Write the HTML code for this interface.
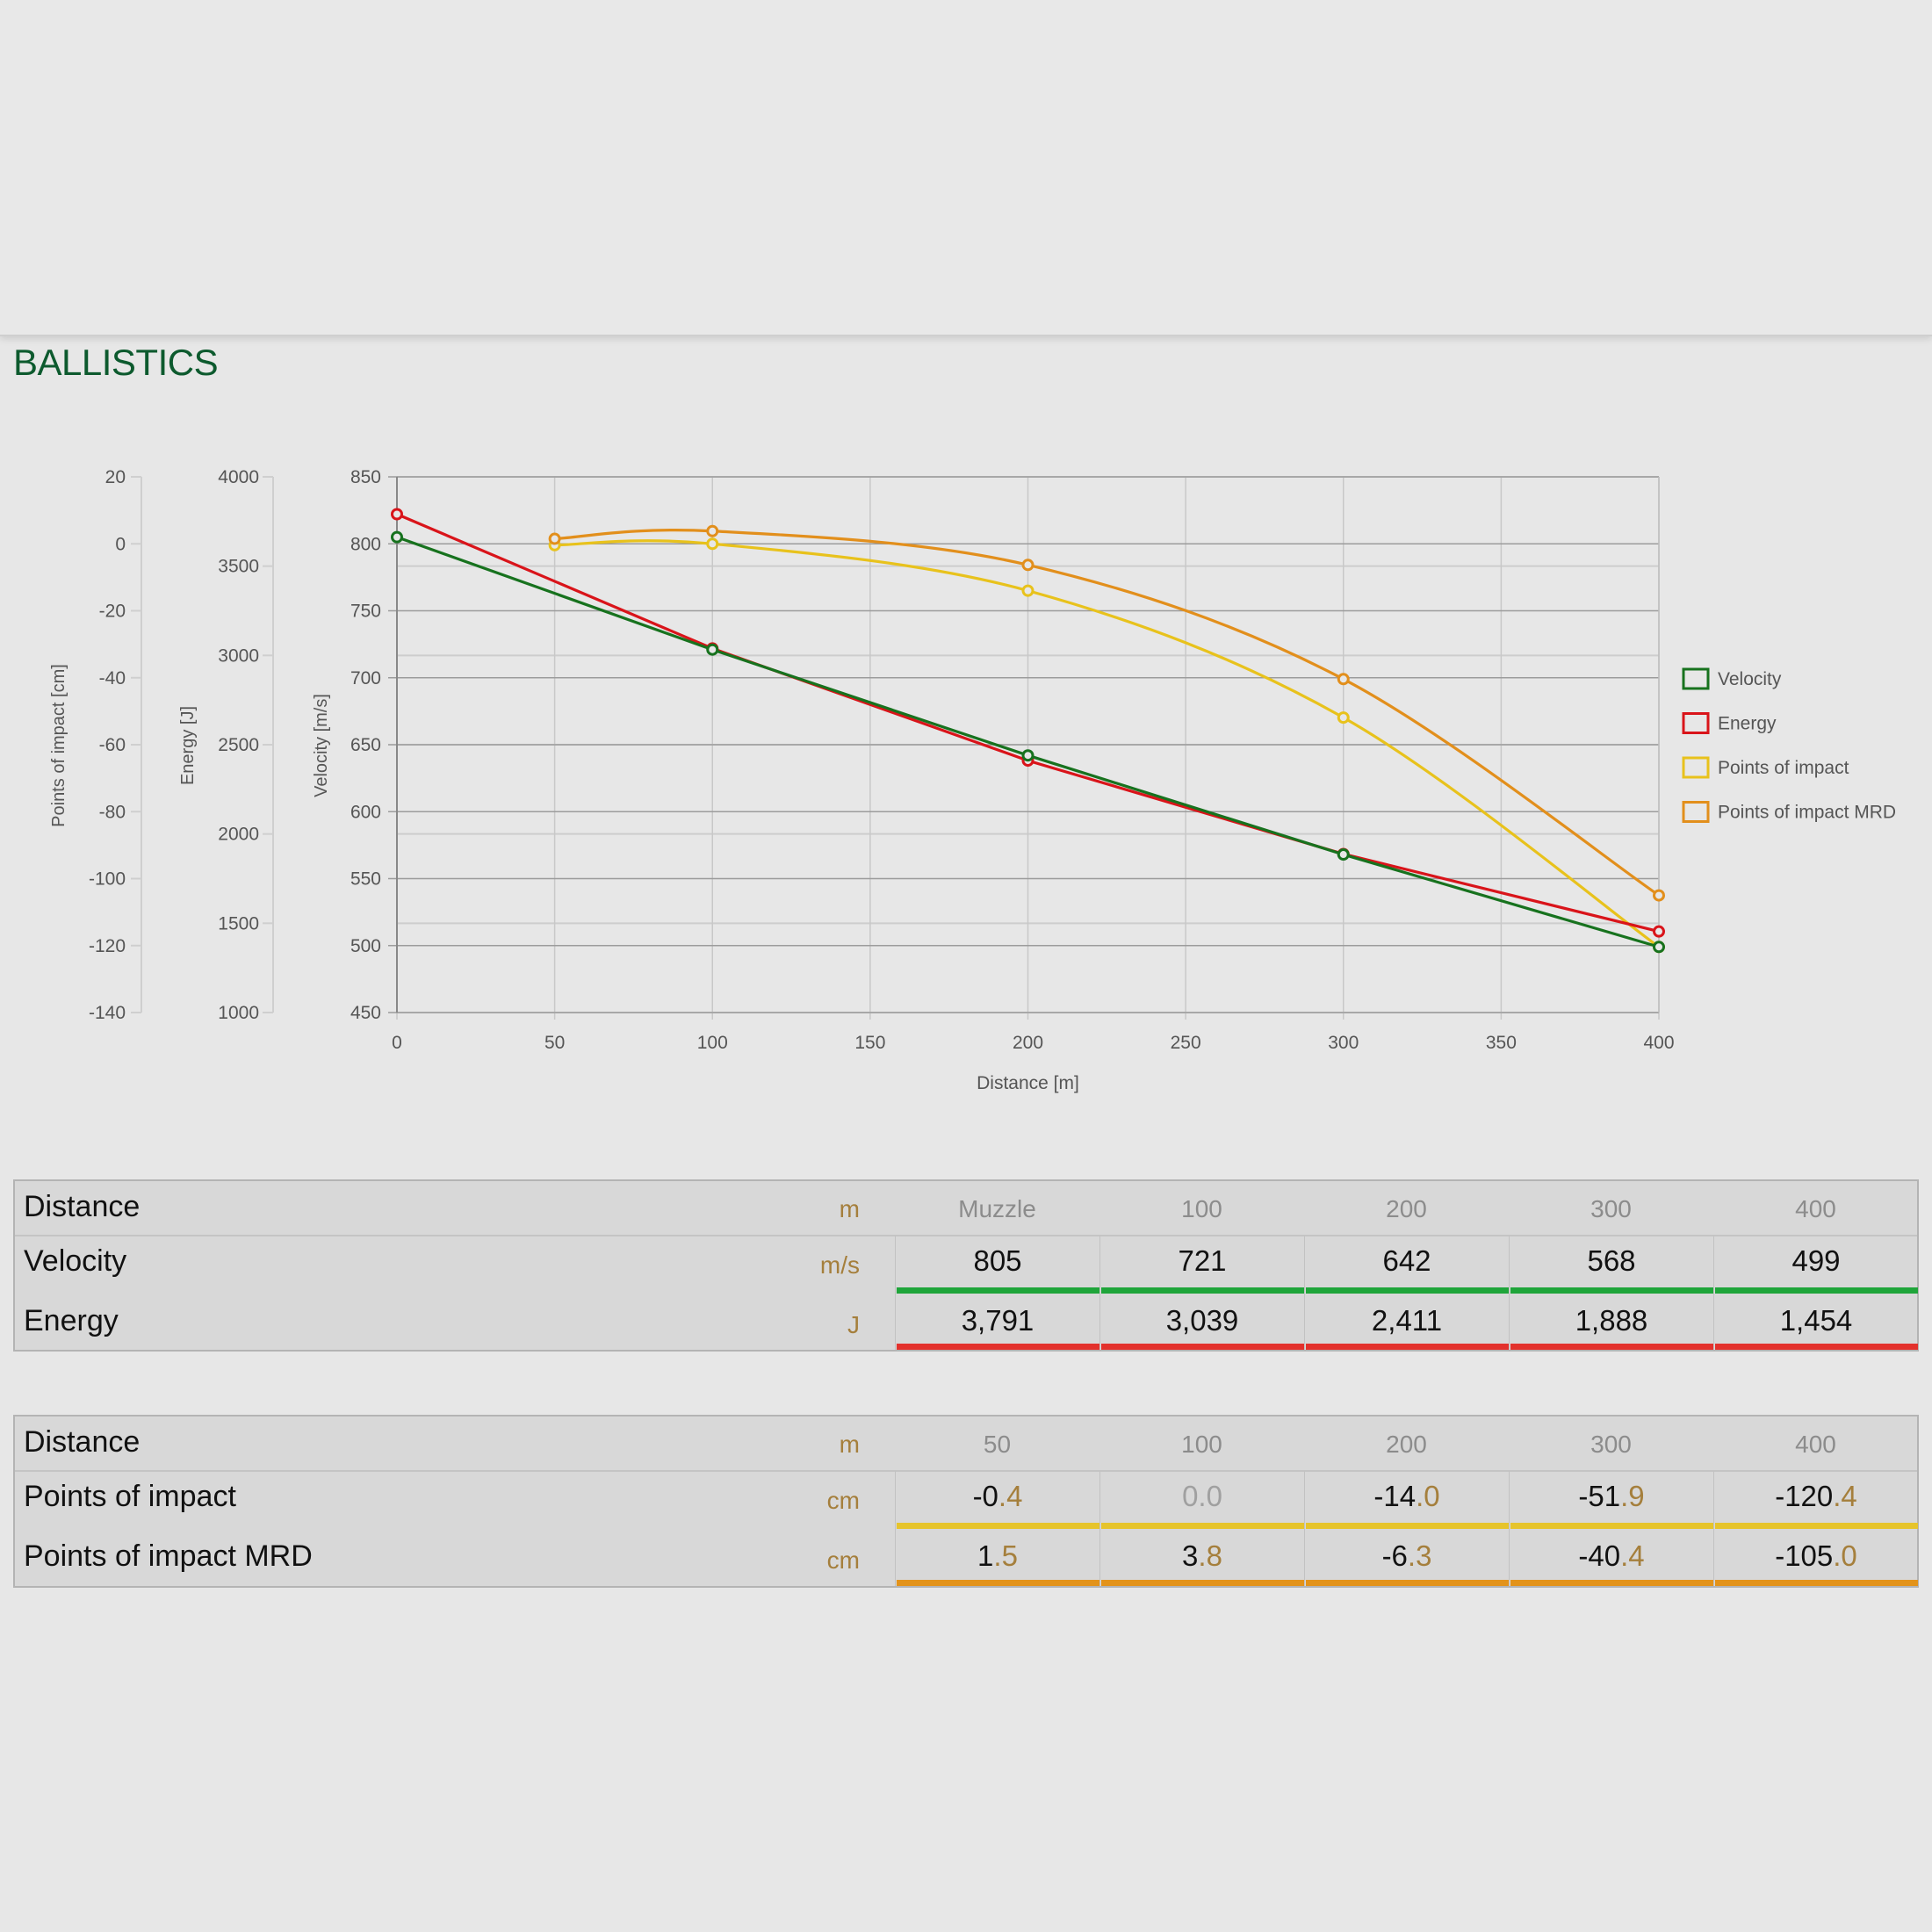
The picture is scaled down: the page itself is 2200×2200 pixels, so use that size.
<!DOCTYPE html>
<html><head><meta charset="utf-8">
<style>
html,body{margin:0;padding:0;background:#e7e7e7;}
body{width:2200px;height:2200px;position:relative;overflow:hidden;font-family:"Liberation Sans",sans-serif;}
#topband{position:absolute;left:0;top:0;width:2200px;height:381px;background:#e8e8e8;border-bottom:2px solid #cfcfcf;box-shadow:0 3px 8px rgba(0,0,0,0.12);}
#title{position:absolute;left:15px;top:389px;font-size:42px;color:#0d5a2e;letter-spacing:-0.5px;}
svg{position:absolute;left:0;top:0;}
.tbl{position:absolute;left:15px;width:2170px;background:#d8d8d8;border:2px solid #b4b4b4;box-sizing:border-box;}
.row{position:absolute;left:0;width:2166px;}
.hdr{border-bottom:2px solid #c4c4c4;}
.lbl{position:absolute;left:10px;font-size:34px;color:#111;}
.unit{position:absolute;right:1204px;font-size:28px;color:#a57f3c;}
.cell{position:absolute;width:233px;text-align:center;box-sizing:border-box;}
.hc{font-size:28px;color:#8c8c8c;}
.vc{font-size:33px;color:#111;border-left:1px solid #c2c2c2;}
.bar{position:absolute;left:1px;right:0;bottom:0;height:7px;}
.g{color:#a57f3c;}
.z{color:#a0a0a0;}
</style></head>
<body>
<div id="topband"></div>
<div id="title">BALLISTICS</div>
<svg id="chart" width="2200" height="1300"></svg>

<div class="tbl" style="top:1343px;height:196px;">
 <div class="row hdr" style="top:0;height:61px;">
  <div class="lbl" style="top:10px;">Distance</div>
  <div class="unit" style="top:16px;">m</div>
  <div class="cell hc" style="left:1002px;top:16px;">Muzzle</div>
  <div class="cell hc" style="left:1235px;top:16px;">100</div>
  <div class="cell hc" style="left:1468px;top:16px;">200</div>
  <div class="cell hc" style="left:1701px;top:16px;">300</div>
  <div class="cell hc" style="left:1934px;top:16px;">400</div>
 </div>
 <div class="row" style="top:62px;height:66px;">
  <div class="lbl" style="top:10px;">Velocity</div>
  <div class="unit" style="top:18px;">m/s</div>
  <div class="cell vc" style="left:1002px;top:0;height:66px;padding-top:10px;">805<div class="bar" style="background:#1fa53a"></div></div>
  <div class="cell vc" style="left:1235px;top:0;height:66px;padding-top:10px;">721<div class="bar" style="background:#1fa53a"></div></div>
  <div class="cell vc" style="left:1468px;top:0;height:66px;padding-top:10px;">642<div class="bar" style="background:#1fa53a"></div></div>
  <div class="cell vc" style="left:1701px;top:0;height:66px;padding-top:10px;">568<div class="bar" style="background:#1fa53a"></div></div>
  <div class="cell vc" style="left:1934px;top:0;height:66px;padding-top:10px;">499<div class="bar" style="background:#1fa53a"></div></div>
 </div>
 <div class="row" style="top:128px;height:64px;">
  <div class="lbl" style="top:12px;">Energy</div>
  <div class="unit" style="top:20px;">J</div>
  <div class="cell vc" style="left:1002px;top:0;height:64px;padding-top:12px;">3,791<div class="bar" style="background:#e3312c"></div></div>
  <div class="cell vc" style="left:1235px;top:0;height:64px;padding-top:12px;">3,039<div class="bar" style="background:#e3312c"></div></div>
  <div class="cell vc" style="left:1468px;top:0;height:64px;padding-top:12px;">2,411<div class="bar" style="background:#e3312c"></div></div>
  <div class="cell vc" style="left:1701px;top:0;height:64px;padding-top:12px;">1,888<div class="bar" style="background:#e3312c"></div></div>
  <div class="cell vc" style="left:1934px;top:0;height:64px;padding-top:12px;">1,454<div class="bar" style="background:#e3312c"></div></div>
 </div>
</div>

<div class="tbl" style="top:1611px;height:197px;">
 <div class="row hdr" style="top:0;height:61px;">
  <div class="lbl" style="top:10px;">Distance</div>
  <div class="unit" style="top:16px;">m</div>
  <div class="cell hc" style="left:1002px;top:16px;">50</div>
  <div class="cell hc" style="left:1235px;top:16px;">100</div>
  <div class="cell hc" style="left:1468px;top:16px;">200</div>
  <div class="cell hc" style="left:1701px;top:16px;">300</div>
  <div class="cell hc" style="left:1934px;top:16px;">400</div>
 </div>
 <div class="row" style="top:62px;height:66px;">
  <div class="lbl" style="top:10px;">Points of impact</div>
  <div class="unit" style="top:18px;">cm</div>
  <div class="cell vc" style="left:1002px;top:0;height:66px;padding-top:10px;">-0<span class="g">.4</span><div class="bar" style="background:#e6c42c"></div></div>
  <div class="cell vc" style="left:1235px;top:0;height:66px;padding-top:10px;"><span class="z">0.0</span><div class="bar" style="background:#e6c42c"></div></div>
  <div class="cell vc" style="left:1468px;top:0;height:66px;padding-top:10px;">-14<span class="g">.0</span><div class="bar" style="background:#e6c42c"></div></div>
  <div class="cell vc" style="left:1701px;top:0;height:66px;padding-top:10px;">-51<span class="g">.9</span><div class="bar" style="background:#e6c42c"></div></div>
  <div class="cell vc" style="left:1934px;top:0;height:66px;padding-top:10px;">-120<span class="g">.4</span><div class="bar" style="background:#e6c42c"></div></div>
 </div>
 <div class="row" style="top:128px;height:65px;">
  <div class="lbl" style="top:12px;">Points of impact MRD</div>
  <div class="unit" style="top:20px;">cm</div>
  <div class="cell vc" style="left:1002px;top:0;height:65px;padding-top:12px;">1<span class="g">.5</span><div class="bar" style="background:#e3931a"></div></div>
  <div class="cell vc" style="left:1235px;top:0;height:65px;padding-top:12px;">3<span class="g">.8</span><div class="bar" style="background:#e3931a"></div></div>
  <div class="cell vc" style="left:1468px;top:0;height:65px;padding-top:12px;">-6<span class="g">.3</span><div class="bar" style="background:#e3931a"></div></div>
  <div class="cell vc" style="left:1701px;top:0;height:65px;padding-top:12px;">-40<span class="g">.4</span><div class="bar" style="background:#e3931a"></div></div>
  <div class="cell vc" style="left:1934px;top:0;height:65px;padding-top:12px;">-105<span class="g">.0</span><div class="bar" style="background:#e3931a"></div></div>
 </div>
</div>

<script>
const velDist = [0, 100, 200, 300, 400];
const velocity = [805, 721, 642, 568, 499];
const energy = [3791, 3039, 2411, 1888, 1454];
const poiDist = [50, 100, 200, 300, 400];
const poi = [-0.4, 0.0, -14.0, -51.9, -120.4];
const poiMrd = [1.5, 3.8, -6.3, -40.4, -105.0];
const xTicks = [0, 50, 100, 150, 200, 250, 300, 350, 400];
const velTicks = [450, 500, 550, 600, 650, 700, 750, 800, 850];
const energyTicks = [1000, 1500, 2000, 2500, 3000, 3500, 4000];
const poiTicks = [-140, -120, -100, -80, -60, -40, -20, 0, 20];

const NS = 'http://www.w3.org/2000/svg';
const svg = document.getElementById('chart');
const L = 452, R = 1889, T = 543, B = 1153;
const X = d => L + (d - 0) / 400 * (R - L);
const YV = v => B - (v - 450) / 400 * (B - T);
const YE = e => B - (e - 1000) / 3000 * (B - T);
const YP = p => B - (p + 140) / 160 * (B - T);

function mk(tag, attrs, parent) {
  const e = document.createElementNS(NS, tag);
  for (const k in attrs) e.setAttribute(k, attrs[k]);
  (parent || svg).appendChild(e);
  return e;
}
function txt(s, x, y, anchor, size, fill, rot) {
  const t = mk('text', {x: x, y: y, 'text-anchor': anchor, 'font-size': size, fill: fill, 'font-family': 'Liberation Sans, sans-serif'});
  if (rot) t.setAttribute('transform', 'rotate(-90 ' + x + ' ' + y + ')');
  t.textContent = s;
  return t;
}

energyTicks.forEach(e => {
  const l = mk('line', {x1: L, x2: R, y1: YE(e), y2: YE(e), stroke: '#cdcdcd', 'stroke-width': 2});
  
  
});
xTicks.forEach(d => {
  const l = mk('line', {x1: X(d), x2: X(d), y1: T, y2: B + 8, stroke: '#c8c8c8', 'stroke-width': 1.5});
  
  
  const t = txt(String(d), X(d), 1194, 'middle', 21, '#555');
  
  
});
velTicks.forEach(v => {
  const l = mk('line', {x1: L - 10, x2: R, y1: YV(v), y2: YV(v), stroke: '#9c9c9c', 'stroke-width': 1.6});
  
  
  const t = txt(String(v), L - 18, YV(v) + 7, 'end', 21, '#555');
  
  
});
mk('line', {x1: L, x2: L, y1: T, y2: B, stroke: '#888', 'stroke-width': 2});
mk('line', {x1: R, x2: R, y1: T, y2: B, stroke: '#bdbdbd', 'stroke-width': 1.5});

mk('line', {x1: 311, x2: 311, y1: T, y2: B, stroke: '#cfcfcf', 'stroke-width': 2});
energyTicks.forEach(e => {
  mk('line', {x1: 299, x2: 311, y1: YE(e), y2: YE(e), stroke: '#cfcfcf', 'stroke-width': 2});
  const t = txt(String(e), 295, YE(e) + 7, 'end', 21, '#555');
  
  
});
mk('line', {x1: 161, x2: 161, y1: T, y2: B, stroke: '#cfcfcf', 'stroke-width': 2});
poiTicks.forEach(p => {
  mk('line', {x1: 149, x2: 161, y1: YP(p), y2: YP(p), stroke: '#cfcfcf', 'stroke-width': 2});
  const t = txt(String(p), 143, YP(p) + 7, 'end', 21, '#555');
  
  
});

let a;
a = txt('Points of impact [cm]', 73, 849, 'middle', 20, '#555', true);


a = txt('Energy [J]', 220, 849, 'middle', 20, '#555', true);


a = txt('Velocity [m/s]', 372, 849, 'middle', 20, '#555', true);


a = txt('Distance [m]', X(200), 1240, 'middle', 21, '#555');



function smooth(pts) {
  let d = 'M' + pts[0][0] + ',' + pts[0][1];
  for (let i = 0; i < pts.length - 1; i++) {
    const p0 = pts[i - 1] || pts[i], p1 = pts[i], p2 = pts[i + 1], p3 = pts[i + 2] || p2;
    const c1x = p1[0] + (p2[0] - p0[0]) / 6, c1y = p1[1] + (p2[1] - p0[1]) / 6;
    const c2x = p2[0] - (p3[0] - p1[0]) / 6, c2y = p2[1] - (p3[1] - p1[1]) / 6;
    d += ' C' + c1x + ',' + c1y + ' ' + c2x + ',' + c2y + ' ' + p2[0] + ',' + p2[1];
  }
  return d;
}
function series(xs, ys, yf, color, name, curved) {
  const pts = xs.map((x, i) => [X(x), yf(ys[i])]);
  const d = curved ? smooth(pts) : 'M' + pts.map(p => p.join(',')).join(' L');
  const p = mk('path', {d: d, fill: 'none', stroke: color, 'stroke-width': 3.2});
  
  
  pts.forEach(q => {
    const c = mk('circle', {cx: q[0], cy: q[1], r: 5.5, fill: '#e7e7e7', stroke: color, 'stroke-width': 3});
    
    
  });
}
series(poiDist, poi, YP, '#e8c21c', 'poi', true);
series(poiDist, poiMrd, YP, '#e28f1c', 'poi-mrd', true);
series(velDist, energy, YE, '#d9141a', 'energy', false);
series(velDist, velocity, YV, '#17721e', 'velocity', false);

const legNames = ['Velocity', 'Energy', 'Points of impact', 'Points of impact MRD'];
const legColors = ['#17721e', '#d9141a', '#e8c21c', '#e28f1c'];
legNames.forEach((n, i) => {
  const y = 773 + i * 50.5;
  const g = mk('g', {});
  
  
  mk('rect', {x: 1917, y: y - 11, width: 28, height: 22, fill: 'none', stroke: legColors[i], 'stroke-width': 3}, g);
  const t = mk('text', {x: 1956, y: y + 7, 'font-size': 21, fill: '#555', 'font-family': 'Liberation Sans, sans-serif'}, g);
  t.textContent = n;
});
</script>
</body></html>
